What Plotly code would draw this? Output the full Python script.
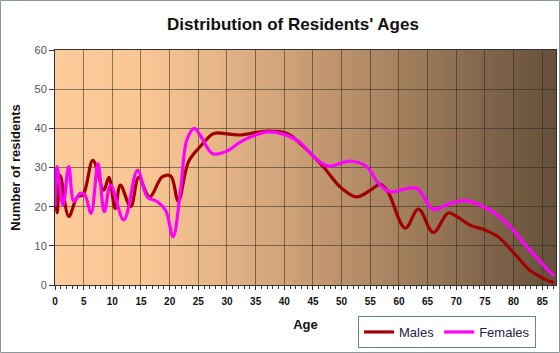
import plotly.graph_objects as go

# ---- data ----
male_age = [0, 0.4, 0.9, 2.4, 3.9, 4.9, 6.6, 8.5, 9.4, 10.5, 11.4, 13.2, 14.6, 16.5,
            18.7, 20.2, 21.5, 23.3, 25.3, 27.7, 30, 32.3, 37, 40.5, 42.8, 46.8, 49.7,
            52.6, 55, 56.7, 58, 61.1, 63.4, 66, 68.6, 70.2, 72.4, 75.1, 77.3, 80.1,
            82.8, 85.2, 87]
male_val = [28, 18.5, 28, 17.5, 22.5, 23, 31.8, 24.2, 27.5, 19.5, 25.5, 20, 27.5, 22.5,
            27.6, 27.8, 21.4, 31.5, 35.3, 38.7, 38.6, 38.3, 39.3, 38.7, 36.1, 30.2, 25.1,
            22.5, 24.2, 25.7, 24, 14.5, 19.4, 13.4, 18.4, 17.4, 15.3, 14, 12.3, 8.1,
            3.8, 1.7, 0.6]

female_age = [0, 0.35, 1.4, 2.4, 3.3, 4.4, 5.2, 6.3, 7.5, 8.6, 9.7, 12, 14.4, 16.1,
              17.8, 19.3, 20.6, 21.9, 23, 24.3, 25.3, 27.5, 30, 32.3, 35, 37, 40.5,
              42.8, 45, 47.5, 51.5, 54.4, 56.4, 58.4, 60.8, 63.1, 66, 68.6, 71.8,
              75.9, 79.4, 82.3, 87]
female_val = [20, 30.2, 20.4, 30.2, 21.3, 23.4, 23, 18.3, 31, 18.7, 25.5, 16.6, 29.3, 22.5,
              21.3, 19.1, 12.3, 24.2, 37, 40, 38.3, 33.5, 34.2, 36.5, 38.3, 39.1, 38.2,
              36.3, 33, 30.4, 31.6, 30.2, 26, 23.8, 24.4, 24.7, 19.3, 20.7, 21.5,
              19.1, 14.9, 9.8, 2.3]

x_ticks = list(range(0, 90, 5))
y_ticks = list(range(0, 70, 10))

FONT = "Liberation Sans, Arial, sans-serif"

fig = go.Figure()
fig.add_trace(go.Scatter(x=male_age, y=male_val, name="Males", mode="lines",
                         line=dict(color="#A00000", width=3.2, shape="spline", smoothing=1.0)))
fig.add_trace(go.Scatter(x=female_age, y=female_val, name="Females", mode="lines",
                         line=dict(color="#FF00FF", width=3.2, shape="spline", smoothing=1.0)))

# background gradient (peach -> dark brown) as thin strips in the plot area
stops = [(0.0, (252, 203, 153)), (0.18, (249, 198, 148)), (0.29, (235, 186, 139)),
         (0.47, (206, 161, 119)), (0.65, (172, 135, 100)), (0.83, (135, 106, 78)),
         (1.0, (100, 80, 58))]

def col_at(t):
    for (a, ca), (b, cb) in zip(stops[:-1], stops[1:]):
        if a <= t <= b:
            f = (t - a) / (b - a)
            return tuple(int(round(ca[i] + (cb[i] - ca[i]) * f)) for i in range(3))
    return stops[-1][1]

N = 120
shapes = []
for i in range(N):
    t0 = i / N
    t1 = (i + 1) / N
    c = col_at((t0 + t1) / 2)
    shapes.append(dict(type="rect", xref="x domain", yref="y domain",
                       x0=t0, x1=min(1.0, t1 + 0.002), y0=0.0, y1=1.0,
                       fillcolor="rgb(%d,%d,%d)" % c, line=dict(width=0), layer="below"))

# outer border of the image
W, H = 560, 353
ml, mr, mt, mb = 55, 4, 50, 68
pw, ph = W - ml - mr, H - mt - mb
shapes.append(dict(type="rect", xref="paper", yref="paper",
                   x0=(0.5 - ml) / pw, x1=(W - 0.5 - ml) / pw,
                   y0=-(mb - 0.5) / ph, y1=(ph + mt - 0.5) / ph,
                   line=dict(color="#8a9a9a", width=1), fillcolor="rgba(0,0,0,0)"))

grid = "rgba(50,40,30,0.55)"
fig.update_layout(
    width=W, height=H,
    margin=dict(l=ml, r=mr, t=mt, b=mb),
    paper_bgcolor="white", plot_bgcolor="rgba(0,0,0,0)",
    shapes=shapes,
    title=dict(text="<b>Distribution of Residents' Ages</b>", x=293 / W, xanchor="center",
               xref="container", y=1 - 24 / H, yanchor="middle", yref="container",
               font=dict(family=FONT, size=17, color="#111")),
    xaxis=dict(range=[0, 87.4], tickvals=x_ticks, showgrid=True, gridcolor=grid, gridwidth=1,
               showline=True, linecolor="#333", linewidth=1, mirror=True,
               ticks="outside", ticklen=4, tickcolor="#333", ticklabelstandoff=3,
               minor=dict(dtick=1, tick0=0, ticks="outside", ticklen=3, tickcolor="#333", showgrid=False),
               tickfont=dict(family=FONT, size=10, color="#111", weight="bold"),
               title=dict(text="<b>Age</b>", font=dict(family=FONT, size=13, color="#111"), standoff=13),
               zeroline=False, fixedrange=True),
    yaxis=dict(range=[0, 60], tickvals=y_ticks, showgrid=True, gridcolor=grid, gridwidth=1,
               showline=True, linecolor="#333", linewidth=1, mirror=True,
               ticks="outside", ticklen=5, tickcolor="#333",
               tickfont=dict(family=FONT, size=11, color="#555"),
               title=dict(text="<b>Number of residents</b>", font=dict(family=FONT, size=13, color="#111"),
                          standoff=10),
               zeroline=False, fixedrange=True),
    legend=dict(orientation="h", x=(358 - ml) / pw, y=(ph - (316 - mt)) / ph,
                xanchor="left", yanchor="top", bordercolor="#6a8a8a", borderwidth=1,
                bgcolor="rgba(0,0,0,0)", font=dict(family=FONT, size=13, color="#224"),
                itemwidth=30, tracegroupgap=0),
    showlegend=True,
)

fig.write_html("out.html")
